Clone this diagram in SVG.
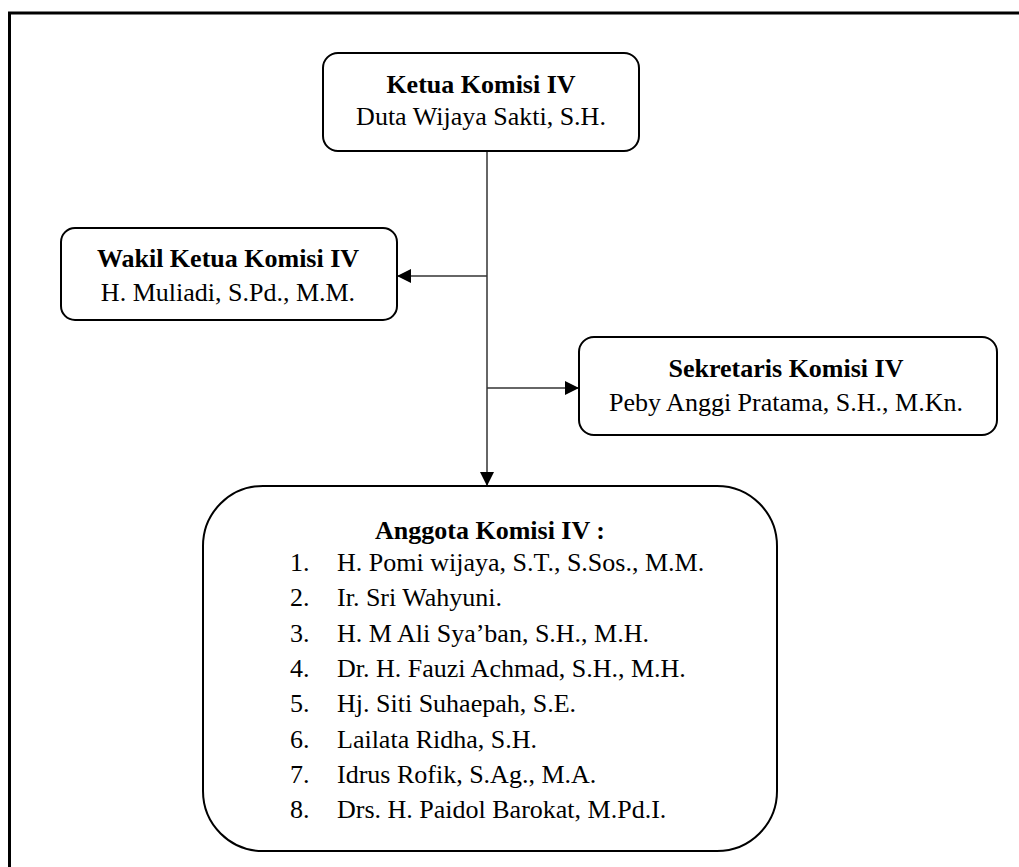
<svg xmlns="http://www.w3.org/2000/svg" width="1019" height="867" viewBox="0 0 1019 867">
<style>
.box{fill:#fff;stroke:#000;stroke-width:2}
.t{font-family:"Liberation Serif","Times New Roman",serif;font-size:26px;fill:#000}
.b{font-weight:bold}
.m{text-anchor:middle}
.c{stroke:#333;stroke-width:1.5;fill:none}
</style>
<defs>
<marker id="ah" markerWidth="14" markerHeight="14" refX="14" refY="7" orient="auto" markerUnits="userSpaceOnUse">
<path d="M0,0 L14,7 L0,14 Z" fill="#000"/>
</marker>
</defs>
<rect width="1019" height="867" fill="#fff"/>
<path d="M9.5 867 V13 H1019" fill="none" stroke="#000" stroke-width="3"/>
<g id="connectors">
<line class="c" x1="487" y1="151" x2="487" y2="486" marker-end="url(#ah)"/>
<line class="c" x1="487" y1="276" x2="397" y2="276" marker-end="url(#ah)"/>
<line class="c" x1="487" y1="388" x2="579" y2="388" marker-end="url(#ah)"/>
</g>
<g id="ketua">
<rect class="box" x="323" y="53" width="316" height="98" rx="15"/>
<text class="t b m" x="481" y="93">Ketua Komisi IV</text>
<text class="t m" x="481" y="125">Duta Wijaya Sakti, S.H.</text>
</g>
<g id="wakil">
<rect class="box" x="61" y="228" width="336" height="92" rx="14"/>
<text class="t b m" x="228" y="267">Wakil Ketua Komisi IV</text>
<text class="t m" x="228" y="300.5">H. Muliadi, S.Pd., M.M.</text>
</g>
<g id="sekretaris">
<rect class="box" x="579" y="337" width="418" height="98" rx="15"/>
<text class="t b m" x="786" y="377">Sekretaris Komisi IV</text>
<text class="t m" x="786" y="410.5">Peby Anggi Pratama, S.H., M.Kn.</text>
</g>
<g id="anggota">
<rect class="box" x="203" y="486" width="574" height="365" rx="60"/>
<text class="t b m" x="490" y="539">Anggota Komisi IV :</text>
<g class="t">
<text x="290" y="571">1.</text><text x="337" y="571">H. Pomi wijaya, S.T., S.Sos., M.M.</text>
<text x="290" y="606.3">2.</text><text x="337" y="606.3">Ir. Sri Wahyuni.</text>
<text x="290" y="641.7">3.</text><text x="337" y="641.7">H. M Ali Sya’ban, S.H., M.H.</text>
<text x="290" y="677">4.</text><text x="337" y="677">Dr. H. Fauzi Achmad, S.H., M.H.</text>
<text x="290" y="712.3">5.</text><text x="337" y="712.3">Hj. Siti Suhaepah, S.E.</text>
<text x="290" y="747.7">6.</text><text x="337" y="747.7">Lailata Ridha, S.H.</text>
<text x="290" y="783">7.</text><text x="337" y="783">Idrus Rofik, S.Ag., M.A.</text>
<text x="290" y="818.3">8.</text><text x="337" y="818.3">Drs. H. Paidol Barokat, M.Pd.I.</text>
</g>
</g>
</svg>
